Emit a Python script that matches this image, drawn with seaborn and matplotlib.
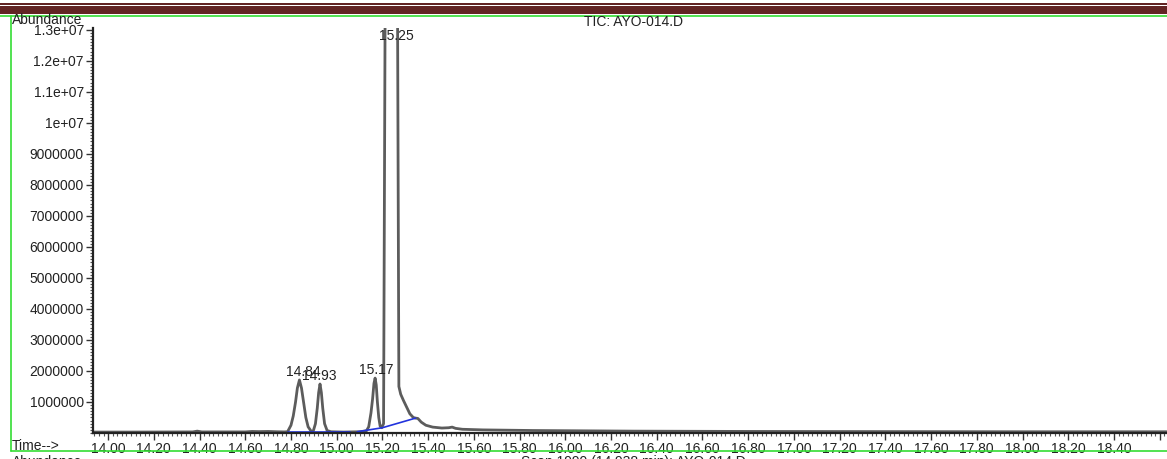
import matplotlib
matplotlib.use("Agg")
import matplotlib.pyplot as plt
import seaborn as sns
import pandas as pd
from matplotlib.patches import Rectangle
from matplotlib.lines import Line2D
from matplotlib.ticker import MultipleLocator

# chromatogram (TIC): retention time (min), abundance
rt = [13.935, 14.10, 14.37, 14.39, 14.41, 14.60, 14.63, 14.66, 14.70, 14.74, 14.77,
      14.785, 14.800, 14.810, 14.820, 14.828, 14.837, 14.846, 14.855, 14.865, 14.875, 14.888,
      14.897, 14.907, 14.915, 14.921, 14.927, 14.933, 14.939, 14.947, 14.958, 14.975,
      15.03, 15.10, 15.13, 15.140, 15.150, 15.157, 15.163, 15.168, 15.173, 15.178, 15.184,
      15.190, 15.197, 15.205, 15.212, 15.230, 15.250, 15.266, 15.272, 15.280, 15.292,
      15.305, 15.320, 15.335, 15.345, 15.355, 15.370, 15.390, 15.420, 15.460, 15.490,
      15.505, 15.520, 15.550, 15.640, 15.860, 16.30, 16.80, 17.40, 18.00, 18.63]
abundance = [0.03, 0.03, 0.035, 0.06, 0.035, 0.035, 0.05, 0.045, 0.05, 0.04, 0.035,
             0.04, 0.25, 0.55, 1.00, 1.45, 1.71, 1.45, 1.00, 0.50, 0.20, 0.06,
             0.05, 0.30, 0.80, 1.30, 1.58, 1.30, 0.80, 0.30, 0.08, 0.04,
             0.03, 0.04, 0.07, 0.20, 0.65, 1.10, 1.60, 1.77, 1.55, 1.00, 0.50,
             0.22, 0.17, 0.30, 14.0, 20.0, 22.0, 14.0, 1.50, 1.25, 1.05,
             0.85, 0.62, 0.50, 0.48, 0.47, 0.35, 0.25, 0.19, 0.16, 0.17,
             0.19, 0.15, 0.12, 0.10, 0.08, 0.06, 0.05, 0.045, 0.04, 0.04]
abundance = [v * 1e6 for v in abundance]

# integration baselines (blue)
base1_rt = [14.785, 15.06]
base1_ab = [0.04e6, 0.04e6]
base2_rt = [15.09, 15.20, 15.345]
base2_ab = [0.04e6, 0.17e6, 0.48e6]

# peak labels
peak_labels = ["14.84", "14.93", "15.17", "15.25"]
peak_rt = [14.853, 14.922, 15.175, 15.262]
peak_top = [1.71e6, 1.58e6, 1.77e6, 22.0e6]

xticks = [14.00 + 0.2 * i for i in range(24)]
xticklabels = ["%.2f" % t for t in xticks[:-1]] + [""]
yticks = [1e6 * i for i in range(1, 14)]
yticklabels = ["1000000", "2000000", "3000000", "4000000", "5000000", "6000000",
               "7000000", "8000000", "9000000", "1e+07", "1.1e+07", "1.2e+07", "1.3e+07"]

sns.set_theme(style="white")
plt.rcParams["font.family"] = ["Liberation Sans", "DejaVu Sans"]
plt.rcParams["font.size"] = 10

W, H = 1167, 459
fig = plt.figure(figsize=(W / 100, H / 100), dpi=100)
ax = fig.add_axes([93 / W, (H - 433) / H, (W - 93) / W, (433 - 28) / H])

df = pd.DataFrame({"rt": rt, "ab": abundance})
sns.lineplot(data=df, x="rt", y="ab", ax=ax, color="#5c5c5c", lw=2.0, estimator=None)
sns.lineplot(x=base1_rt, y=base1_ab, ax=ax, color="#2233dd", lw=1.2, estimator=None)
sns.lineplot(x=base2_rt, y=base2_ab, ax=ax, color="#2233dd", lw=1.2, estimator=None)

ymax = 13.06e6
ax.set_xlim(13.934, 18.632)
ax.set_ylim(0, ymax)

for lab, x, y in zip(peak_labels, peak_rt, peak_top):
    if y > ymax:
        ax.text(x, ymax * 0.9985, lab, ha="center", va="top", fontsize=10, color="#222222")
    else:
        ax.text(x, y + 0.03e6, lab, ha="center", va="bottom", fontsize=10, color="#222222")

ax.set_xticks(xticks)
ax.set_xticklabels(xticklabels)
ax.set_yticks(yticks)
ax.set_yticklabels(yticklabels)
ax.xaxis.set_minor_locator(MultipleLocator(0.02))
ax.yaxis.set_minor_locator(MultipleLocator(1e5))
ax.tick_params(axis="both", which="major", direction="out", length=5, width=1,
               color="#333333", labelcolor="#222222", labelsize=10, pad=1.5)
ax.tick_params(axis="both", which="minor", direction="out", length=2.5, width=0.8,
               color="#555555")
ax.tick_params(axis="x", which="both", bottom=True)
ax.tick_params(axis="y", which="both", left=True)
ax.set_xlabel("")
ax.set_ylabel("")
for s in ["top", "right"]:
    ax.spines[s].set_visible(False)
for s in ["left", "bottom"]:
    ax.spines[s].set_color("#222222")
    ax.spines[s].set_linewidth(1.6)

# header / footer texts
fig.text(12 / W, 1 - 20 / H, "Abundance", ha="left", va="center", fontsize=10, color="#222222")
fig.text(634 / W, 1 - 22 / H, "TIC: AYO-014.D", ha="center", va="center", fontsize=10, color="#222222")
fig.text(12 / W, 1 - 446 / H, "Time-->", ha="left", va="center", fontsize=10, color="#222222")
fig.text(12 / W, 1 - 462 / H, "Abundance", ha="left", va="center", fontsize=10, color="#222222")
fig.text(633 / W, 1 - 462 / H, "Scan 1990 (14.938 min): AYO-014.D", ha="center", va="center",
         fontsize=10, color="#222222")

# page decoration
maroon = "#622423"
green = "#33dd33"
fig.add_artist(Rectangle((0, 1 - 5 / H), 1, 2 / H, color=maroon, transform=fig.transFigure, lw=0))
fig.add_artist(Rectangle((0, 1 - 13.5 / H), 1, 7.5 / H, color=maroon, transform=fig.transFigure, lw=0))
fig.add_artist(Line2D([0, 1], [1 - 15.5 / H, 1 - 15.5 / H], color=green, lw=1.2, transform=fig.transFigure))
fig.add_artist(Line2D([11 / W, 11 / W], [1 - 15.5 / H, 1 - 451 / H], color=green, lw=1.2, transform=fig.transFigure))
fig.add_artist(Line2D([11 / W, 1], [1 - 451 / H, 1 - 451 / H], color=green, lw=1.2, transform=fig.transFigure))

fig.savefig("out.png", dpi=100)
